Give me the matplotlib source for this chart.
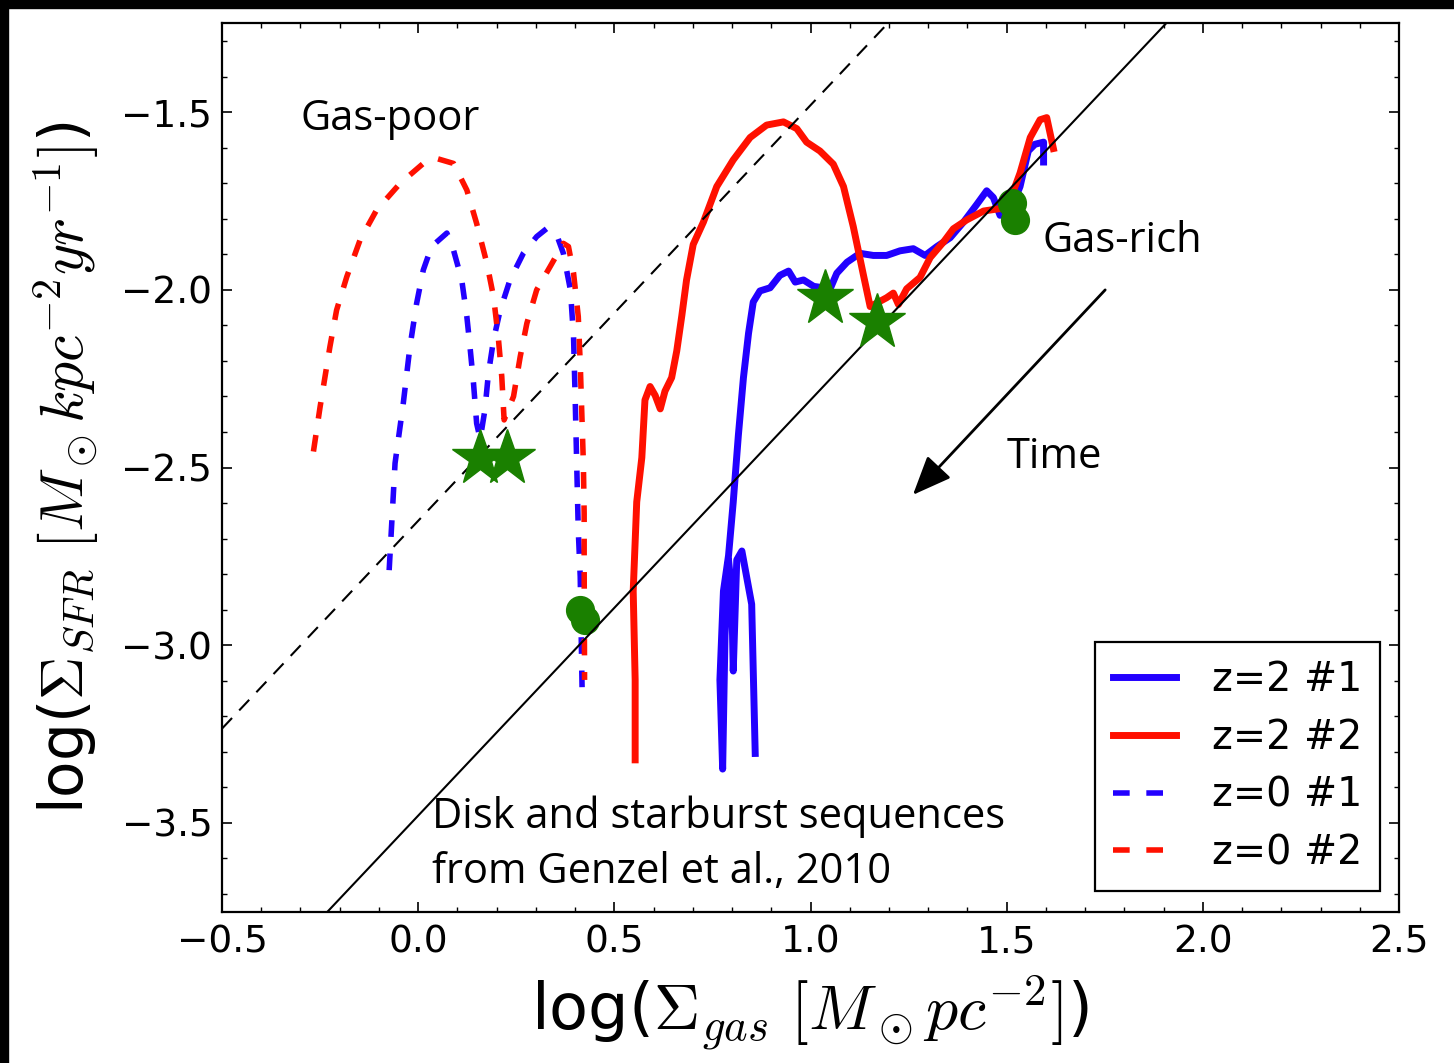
import numpy as np
import matplotlib
matplotlib.use("Agg")
import matplotlib.pyplot as plt
from matplotlib.patches import Rectangle

plt.rcParams['mathtext.fontset'] = 'cm'
plt.rcParams['font.family'] = ['DejaVu Sans']

# z=2 #1 (blue, solid)
z2a_x = [0.859, 0.850, 0.825, 0.812, 0.803, 0.799, 0.791, 0.782, 0.776, 0.769,
         0.778, 0.791, 0.803, 0.816, 0.829, 0.842, 0.854, 0.871, 0.897, 0.922,
         0.944, 0.961, 0.982, 1.008, 1.050, 1.067, 1.093, 1.126, 1.160, 1.194,
         1.228, 1.262, 1.292, 1.322, 1.356, 1.390, 1.424, 1.449, 1.466, 1.483,
         1.509, 1.534, 1.555, 1.572, 1.594, 1.594]
z2a_y = [-3.305, -2.885, -2.735, -2.760, -3.073, -2.848, -2.760, -2.973, -3.349, -3.098,
         -2.848, -2.748, -2.597, -2.410, -2.247, -2.122, -2.034, -2.003, -1.994, -1.959,
         -1.947, -1.978, -1.972, -1.990, -1.997, -1.953, -1.922, -1.897, -1.903, -1.903,
         -1.890, -1.884, -1.903, -1.878, -1.853, -1.809, -1.759, -1.721, -1.740, -1.790,
         -1.778, -1.709, -1.609, -1.590, -1.584, -1.640]

# z=2 #2 (red, solid)
z2b_x = [0.553, 0.553, 0.548, 0.557, 0.570, 0.578, 0.591, 0.604, 0.617, 0.629,
         0.646, 0.659, 0.672, 0.684, 0.701, 0.727, 0.761, 0.803, 0.846, 0.888,
         0.931, 0.965, 0.990, 1.024, 1.058, 1.084, 1.109, 1.135, 1.152, 1.194,
         1.211, 1.224, 1.245, 1.279, 1.305, 1.339, 1.364, 1.398, 1.441, 1.483,
         1.509, 1.534, 1.560, 1.585, 1.602, 1.619]
z2b_y = [-3.323, -3.098, -2.848, -2.597, -2.472, -2.310, -2.272, -2.297, -2.335, -2.285,
         -2.247, -2.172, -2.072, -1.972, -1.872, -1.809, -1.709, -1.634, -1.571, -1.536,
         -1.527, -1.546, -1.584, -1.609, -1.646, -1.709, -1.822, -1.959, -2.047, -2.022,
         -2.009, -2.041, -1.997, -1.965, -1.909, -1.865, -1.828, -1.803, -1.778, -1.771,
         -1.746, -1.671, -1.571, -1.521, -1.515, -1.602]

# z=0 #1 (blue, dashed)
z0a_x = [-0.074, -0.059, -0.038, -0.021, -0.004, 0.013, 0.034, 0.073, 0.090, 0.111,
         0.124, 0.132, 0.141, 0.149, 0.158, 0.170, 0.179, 0.192, 0.209, 0.234,
         0.268, 0.302, 0.328, 0.353, 0.370, 0.388, 0.396, 0.400, 0.404, 0.408,
         0.413, 0.418]
z0a_y = [-2.789, -2.488, -2.319, -2.160, -2.038, -1.944, -1.878, -1.840, -1.888, -1.972,
         -2.075, -2.160, -2.263, -2.376, -2.420, -2.338, -2.235, -2.141, -2.057, -1.972,
         -1.897, -1.850, -1.827, -1.845, -1.897, -2.000, -2.132, -2.300, -2.488, -2.676,
         -2.807, -3.140]

# z=0 #2 (red, dashed)
z0b_x = [-0.267, -0.250, -0.225, -0.208, -0.182, -0.148, -0.106, -0.046, 0.013, 0.047,
         0.090, 0.124, 0.149, 0.175, 0.192, 0.204, 0.213, 0.219, 0.243, 0.260,
         0.277, 0.302, 0.336, 0.370, 0.383, 0.396, 0.408, 0.413, 0.417, 0.421,
         0.423, 0.423, 0.424]
z0b_y = [-2.455, -2.329, -2.160, -2.057, -1.963, -1.859, -1.775, -1.700, -1.644, -1.630,
         -1.644, -1.719, -1.813, -1.925, -2.019, -2.132, -2.244, -2.366, -2.300, -2.188,
         -2.094, -2.000, -1.935, -1.869, -1.878, -1.953, -2.075, -2.207, -2.347, -2.488,
         -2.629, -2.770, -3.098]

# markers
star_x = [0.158, 0.226, 1.037, 1.169]
star_y = [-2.473, -2.473, -2.022, -2.090]
circ_x = [0.413, 0.425, 1.513, 1.522]
circ_y = [-2.901, -2.929, -1.756, -1.803]

# Genzel et al. 2010 disk / starburst sequences (end points)
seq_x = [-0.5, 2.5]
disk_y = [-4.065, -0.555]
sb_y = [-3.235, 0.275]

labels = ['z=2 #1', 'z=2 #2', 'z=0 #1', 'z=0 #2']

fig = plt.figure(figsize=(14.54, 10.63), dpi=100)
ax = fig.add_axes([0.1527, 0.1425, 0.8095, 0.8354])

blue = '#2200ff'
red = '#ff1000'
green = '#1a8000'
dash = (0, (3, 3))

ax.plot(z2a_x, z2a_y, color=blue, lw=5, label=labels[0], zorder=2)
ax.plot(z2b_x, z2b_y, color=red, lw=5, label=labels[1], zorder=2)
ax.plot(z0a_x, z0a_y, color=blue, lw=4, ls=dash, label=labels[2], zorder=2)
ax.plot(z0b_x, z0b_y, color=red, lw=4, ls=dash, label=labels[3], zorder=2)

ax.plot(circ_x, circ_y, 'o', color=green, ms=20, mec=green, zorder=3)
ax.plot(seq_x, disk_y, color='k', lw=1.5, zorder=4)
ax.plot(seq_x, sb_y, color='k', lw=1.5, ls=(0, (7, 5)), zorder=4)
ax.plot(star_x, star_y, '*', color=green, ms=42, mec=green, zorder=5)

ax.annotate('', xy=(1.261, -2.577), xytext=(1.751, -2.0),
            arrowprops=dict(arrowstyle='-|>,head_length=0.6,head_width=0.25',
                            color='k', lw=2, mutation_scale=40,
                            shrinkA=0, shrinkB=0))

tfont = dict(family='Open Sans', fontsize=30)
ax.text(-0.299, -1.52, 'Gas-poor', ha='left', va='center', **tfont)
ax.text(1.590, -1.863, 'Gas-rich', ha='left', va='center', **tfont)
ax.text(1.501, -2.47, 'Time', ha='left', va='center', **tfont)
ax.text(0.0345, -3.56, 'Disk and starburst sequences\nfrom Genzel et al., 2010',
        ha='left', va='center', linespacing=1.4, **tfont)

ax.set_xlim(-0.5, 2.5)
ax.set_ylim(-3.75, -1.25)
ax.set_xticks(np.arange(-0.5, 2.51, 0.5))
ax.set_yticks(np.arange(-3.5, -1.49, 0.5))
ax.set_xticks(np.arange(-0.5, 2.51, 0.1), minor=True)
ax.set_yticks(np.arange(-3.7, -1.29, 0.1), minor=True)
ax.tick_params(which='both', direction='in', top=True, right=True)
ax.tick_params(which='major', length=7, width=1.2, labelsize=27, pad=7)
ax.tick_params(which='minor', length=3.5, width=1.0)
ax.tick_params(axis='x', which='major', pad=9)
for s in ax.spines.values():
    s.set_linewidth(1.6)

ax.set_xlabel(r'log($\Sigma_{gas}\ [M_\odot pc^{-2}]$)', fontsize=46)
ax.set_ylabel(r'log($\Sigma_{SFR}\ [M_\odot kpc^{-2}yr^{-1}]$)', fontsize=43)
ax.xaxis.set_label_coords(0.5, -0.07)
ax.yaxis.set_label_coords(-0.103, 0.5)

leg = ax.legend(loc='lower right', bbox_to_anchor=(0.984, 0.023), borderaxespad=0,
                fontsize=28.5, fancybox=False, edgecolor='k', framealpha=1,
                handlelength=1.6, handletextpad=0.9, labelspacing=0.45,
                borderpad=0.45)
leg.get_frame().set_linewidth(1.6)

# black frame of the screenshot (top and left edges)
fig.patches.append(Rectangle((0, 1 - 8 / 1063), 1, 8 / 1063, transform=fig.transFigure,
                             color='k', zorder=-1))
fig.patches.append(Rectangle((0, 0), 8 / 1454, 1, transform=fig.transFigure,
                             color='k', zorder=-1))

fig.savefig('out.png', dpi=100)
